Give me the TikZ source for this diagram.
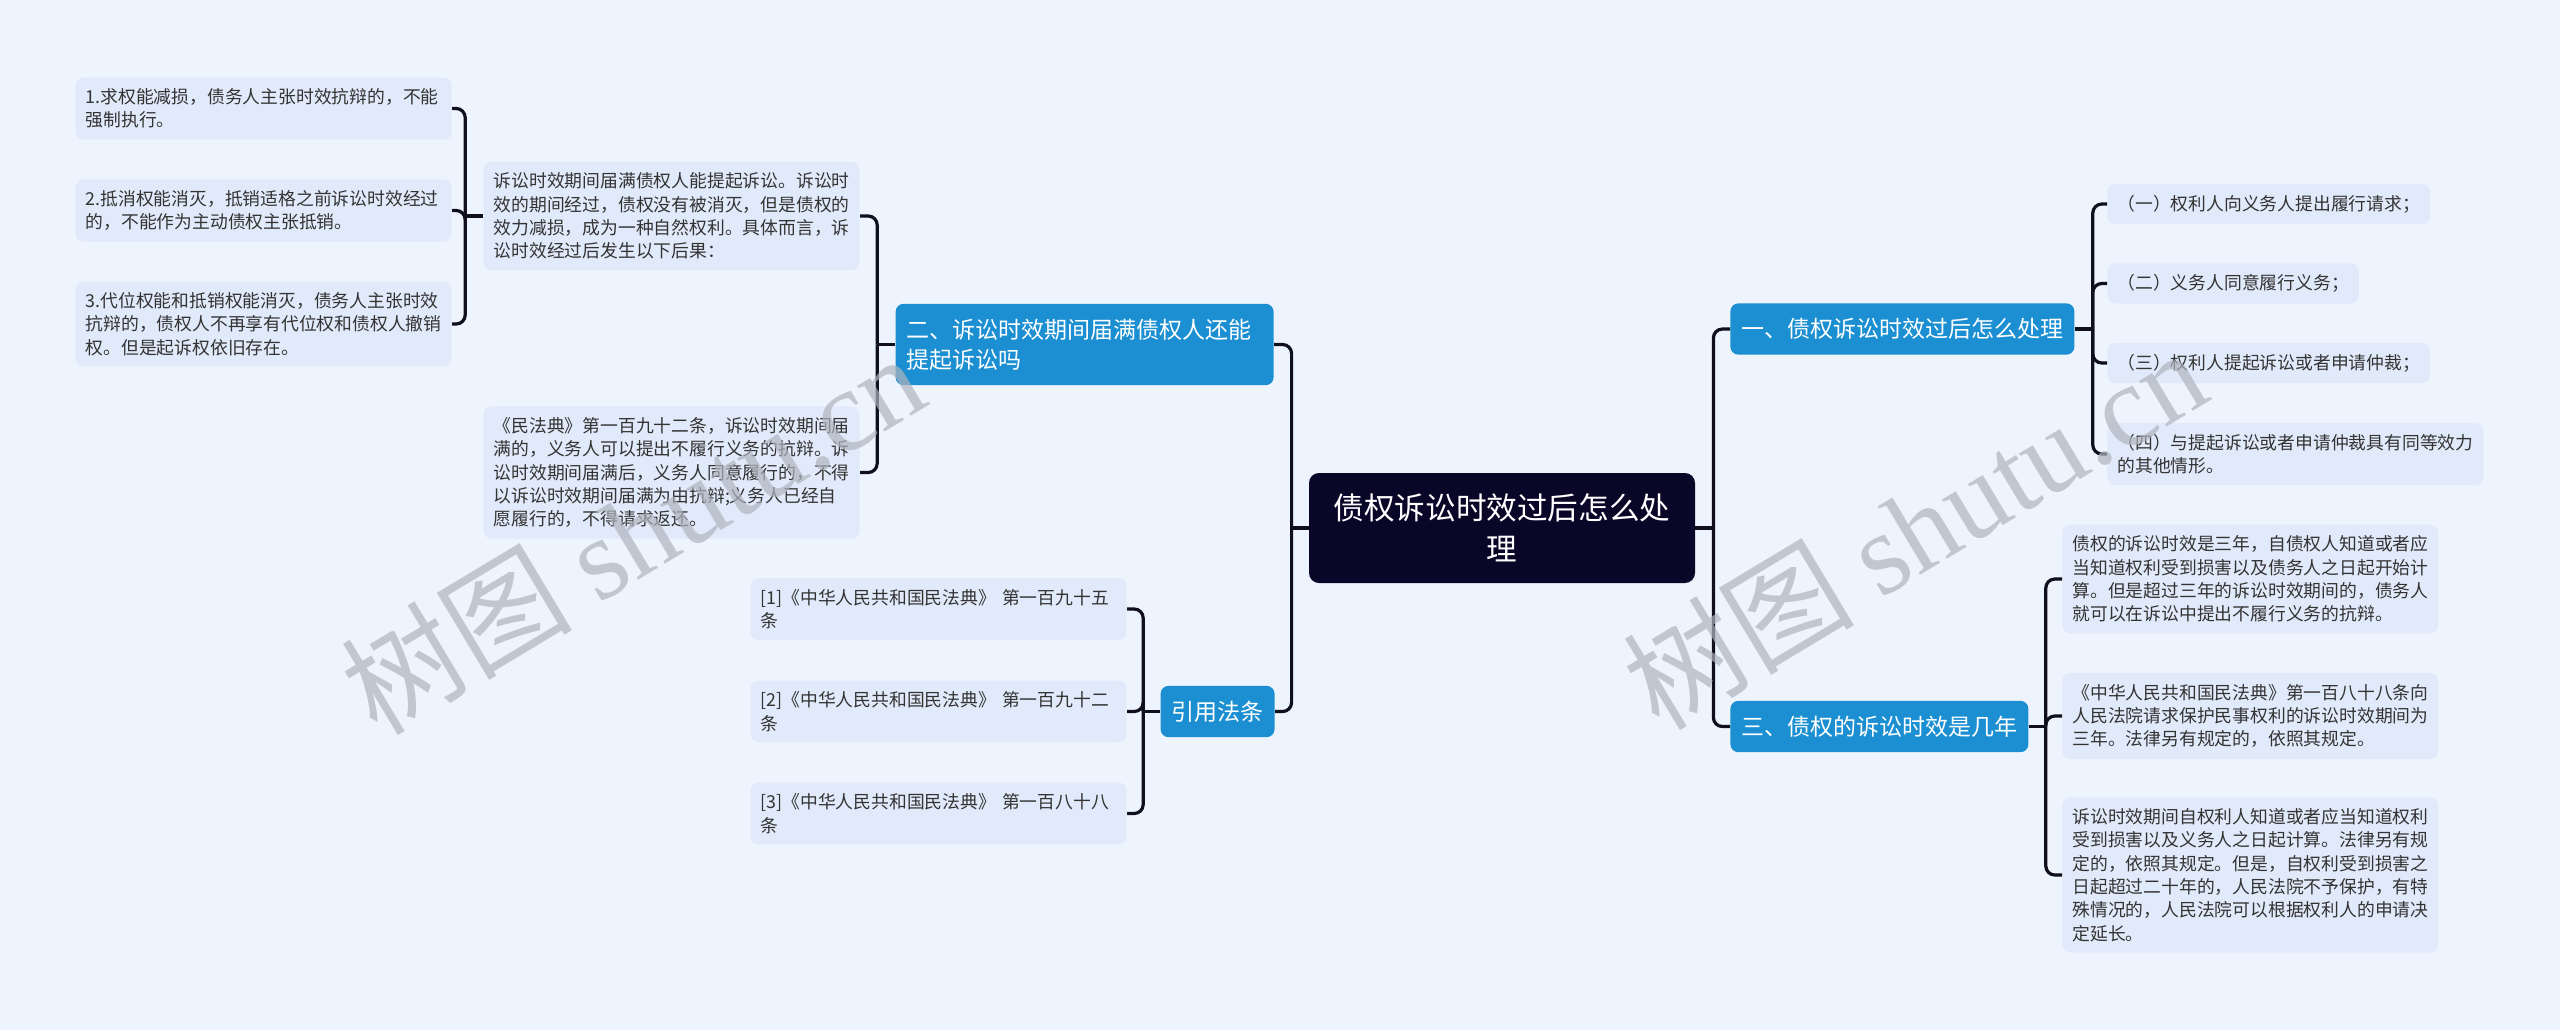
\documentclass[tikz,border=0pt]{standalone}
\usepackage{fontspec}
\usepackage{tikz}
\newfontfamily\cjk{Noto Sans CJK SC}
\newfontfamily\wmserif{Liberation Serif}
\definecolor{bgcol}{RGB}{238,244,253}
\definecolor{leafcol}{RGB}{225,234,250}
\definecolor{bluecol}{RGB}{27,143,210}
\definecolor{rootcol}{RGB}{10,6,40}
\definecolor{linecol}{RGB}{15,15,30}
\definecolor{textcol}{RGB}{51,51,51}
\definecolor{wmcol}{RGB}{175,180,190}

\begin{document}
\begin{tikzpicture}[x=0.5pt, y=-0.5pt,
  link/.style={draw=linecol, line width=1.6pt, rounded corners=4.5pt},
  leaf/.style={fill=leafcol, rounded corners=4pt, inner xsep=5pt, inner ysep=5.5pt,
    align=left, text=textcol, font=\cjk\fontsize{8.9}{11.65}\selectfont},
  note/.style={leaf, text width=178pt},
  topic/.style={fill=bluecol, rounded corners=4pt, inner xsep=5.5pt, inner ysep=7.5pt,
    align=left, text=white, font=\cjk\fontsize{11.5}{15}\selectfont},
  rootbox/.style={fill=rootcol, rounded corners=5pt, minimum width=193pt, minimum height=55pt,
    text width=172pt, align=center, text=white, font=\cjk\fontsize{15.3}{20.5}\selectfont},
  wmark/.style={text=wmcol, text opacity=0.7, font=\cjk\fontsize{58}{64}\selectfont}]
  \fill[bgcol] (0,0) rectangle (2560,1030);
  \useasboundingbox (0,0) rectangle (2560,1030);

  % centre and main topics
  \node[rootbox] (root) at (1502,528) {债权诉讼时效过后怎么处\\理};
  \node[topic, anchor=east, text width=178pt] (q2) at (1274,344.5) {二、诉讼时效期间届满债权人还能\\提起诉讼吗};
  \node[topic, anchor=east] (law) at (1275,711.5) {引用法条};
  \node[topic, anchor=west] (q1) at (1730,329) {一、债权诉讼时效过后怎么处理};
  \node[topic, anchor=west] (q3) at (1730,726.5) {三、债权的诉讼时效是几年};

  % left branch
  \node[note, anchor=east] (a1) at (860,216) {诉讼时效期间届满债权人能提起诉讼。诉讼时\\效的期间经过，债权没有被消灭，但是债权的\\效力减损，成为一种自然权利。具体而言，诉\\讼时效经过后发生以下后果：};
  \node[note, anchor=east] (a2) at (860,472.5) {《民法典》第一百九十二条，诉讼时效期间届\\满的，义务人可以提出不履行义务的抗辩。诉\\讼时效期间届满后，义务人同意履行的，不得\\以诉讼时效期间届满为由抗辩;义务人已经自\\愿履行的，不得请求返还。};
  \node[note, anchor=east] (b1) at (452,108.5) {1.求权能减损，债务人主张时效抗辩的，不能\\强制执行。};
  \node[note, anchor=east] (b2) at (452,210.5) {2.抵消权能消灭，抵销适格之前诉讼时效经过\\的，不能作为主动债权主张抵销。};
  \node[note, anchor=east] (b3) at (452,324) {3.代位权能和抵销权能消灭，债务人主张时效\\抗辩的，债权人不再享有代位权和债权人撤销\\权。但是起诉权依旧存在。};
  \node[note, anchor=east] (r1) at (1127,609) {[1]《中华人民共和国民法典》 第一百九十五\\条};
  \node[note, anchor=east] (r2) at (1127,711.5) {[2]《中华人民共和国民法典》 第一百九十二\\条};
  \node[note, anchor=east] (r3) at (1127,813.5) {[3]《中华人民共和国民法典》 第一百八十八\\条};

  % right branch
  \node[leaf, anchor=west] (p1) at (2107,204) {（一）权利人向义务人提出履行请求；};
  \node[leaf, anchor=west] (p2) at (2107,283.5) {（二）义务人同意履行义务；};
  \node[leaf, anchor=west] (p3) at (2107,363) {（三）权利人提起诉讼或者申请仲裁；};
  \node[leaf, anchor=west] (p4) at (2107,454) {（四）与提起诉讼或者申请仲裁具有同等效力\\的其他情形。};
  \node[note, anchor=west] (t1) at (2062,579) {债权的诉讼时效是三年，自债权人知道或者应\\当知道权利受到损害以及债务人之日起开始计\\算。但是超过三年的诉讼时效期间的，债务人\\就可以在诉讼中提出不履行义务的抗辩。};
  \node[note, anchor=west] (t2) at (2062,716) {《中华人民共和国民法典》第一百八十八条向\\人民法院请求保护民事权利的诉讼时效期间为\\三年。法律另有规定的，依照其规定。};
  \node[note, anchor=west] (t3) at (2062,875) {诉讼时效期间自权利人知道或者应当知道权利\\受到损害以及义务人之日起计算。法律另有规\\定的，依照其规定。但是，自权利受到损害之\\日起超过二十年的，人民法院不予保护，有特\\殊情况的，人民法院可以根据权利人的申请决\\定延长。};

  % connectors
  \draw[link] (root.west) -- ++(-17,0) coordinate (jl);
  \draw[link] (root.east) -- ++(18,0) coordinate (jr);
  \foreach \c in {q2,law} \draw[link] (jl) |- (\c.east);
  \foreach \c in {q1,q3} \draw[link] (jr) |- (\c.west);
  \draw[link] (q2.west) -- ++(-18,0) coordinate (j2);
  \foreach \c in {a1,a2} \draw[link] (j2) |- (\c.east);
  \draw[link] (a1.west) -- ++(-18,0) coordinate (ja);
  \foreach \c in {b1,b2,b3} \draw[link] (ja) |- (\c.east);
  \draw[link] (law.west) -- ++(-17,0) coordinate (jlaw);
  \foreach \c in {r1,r2,r3} \draw[link] (jlaw) |- (\c.east);
  \draw[link] (q1.east) -- ++(18,0) coordinate (j1);
  \foreach \c in {p1,p2,p3,p4} \draw[link] (j1) |- (\c.west);
  \draw[link] (q3.east) -- ++(17,0) coordinate (j3);
  \foreach \c in {t1,t2,t3} \draw[link] (j3) |- (\c.west);

  % watermark
  \node[wmark, rotate=31] (wm1) at (632,533) {树图 {\wmserif shutu.cn}};
  \node[wmark, rotate=31] (wm2) at (1914,528) {树图 {\wmserif shutu.cn}};
\end{tikzpicture}
\end{document}
